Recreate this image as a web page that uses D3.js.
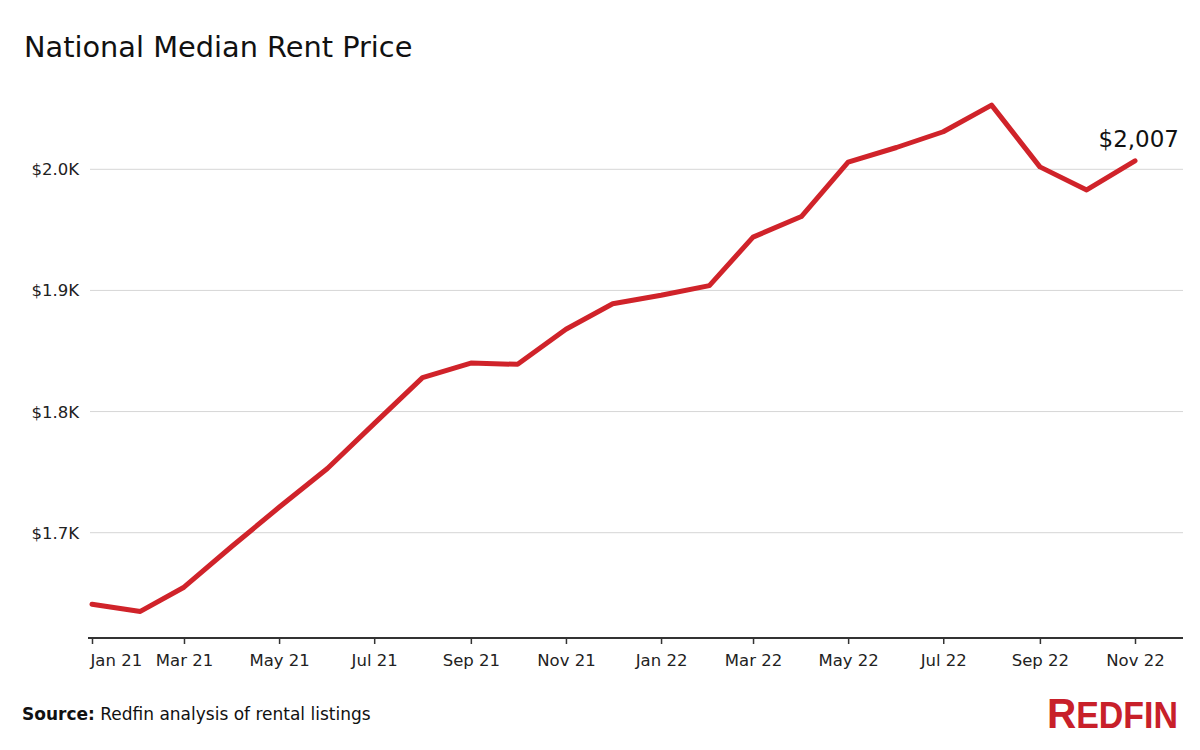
<!DOCTYPE html>
<html><head><meta charset="utf-8">
<script src="https://cdn.jsdelivr.net/npm/d3@7"></script>
<style>body{margin:0;background:#fff}svg{display:block}</style>
</head><body>
<svg id="c" width="1200" height="750"></svg>
<script>
const months = ["2021-01","2021-02","2021-03","2021-04","2021-05","2021-06","2021-07","2021-08","2021-09","2021-10","2021-11","2021-12","2022-01","2022-02","2022-03","2022-04","2022-05","2022-06","2022-07","2022-08","2022-09","2022-10","2022-11"];
const rents = [1641,1635,1655,1689,1721,1753,1790,1828,1840,1839,1868,1889,1896,1904,1944,1961,2006,2018,2031,2053,2002,1983,2007];
const yTicks = [1700,1800,1900,2000];
const yTickLabels = ["$1.7K","$1.8K","$1.9K","$2.0K"];
const xTickMonths = ["2021-01","2021-03","2021-05","2021-07","2021-09","2021-11","2022-01","2022-03","2022-05","2022-07","2022-09","2022-11"];
const title = "National Median Rent Price";
const lastLabel = "$2,007";

const parse = d3.timeParse("%Y-%m");
const data = months.map((m,i)=>({date:parse(m), v:rents[i]}));
const svg = d3.select("#c");
const font = "'DejaVu Sans', Verdana, sans-serif";

const x = d3.scaleTime().domain([parse("2021-01"), parse("2022-11")]).range([92,1135]);
const y = d3.scaleLinear().domain([1700,2000]).range([532.7,169.3]);
const baseY = 638, gridL = 90, gridR = 1183;

svg.append("text").attr("x",24).attr("y",57).attr("font-family",font).attr("font-size",28.8).attr("fill","#111").text(title);

// grid
const g = svg.append("g");
yTicks.forEach((t,i)=>{
  g.append("line").attr("x1",gridL).attr("x2",gridR).attr("y1",y(t)).attr("y2",y(t)).attr("stroke","#d6d6d6").attr("stroke-width",1);
  g.append("text").attr("x",79).attr("y",y(t)).attr("dy","0.36em").attr("text-anchor","end")
    .attr("font-family",font).attr("font-size",16.5).attr("fill","#222").text(yTickLabels[i]);
});

// x axis
svg.append("line").attr("x1",88).attr("x2",gridR).attr("y1",baseY).attr("y2",baseY).attr("stroke","#333").attr("stroke-width",2);
const xa = d3.axisBottom(x).tickValues(xTickMonths.map(parse)).tickSize(6).tickPadding(10).tickFormat(d3.timeFormat("%b %y"));
const ax = svg.append("g").attr("transform",`translate(0,${baseY})`).call(xa);
ax.select(".domain").remove();
ax.selectAll(".tick line").attr("stroke","#333").attr("stroke-width",1.5).attr("y1",0).attr("y2",6);
ax.selectAll(".tick text").attr("font-family",font).attr("font-size",16.5).attr("fill","#222");
ax.selectAll(".tick text").filter((d,i)=>i===0).attr("text-anchor","start").attr("dx",-2);

// line
const line = d3.line().x(d=>x(d.date)).y(d=>y(d.v));
svg.append("path").datum(data).attr("d",line).attr("fill","none").attr("stroke","#d0232a").attr("stroke-width",5).attr("stroke-linejoin","round").attr("stroke-linecap","round");

const last = data[data.length-1];
svg.append("text").attr("x",x(last.date)+44).attr("y",y(last.v)-14).attr("text-anchor","end")
  .attr("font-family",font).attr("font-size",23).attr("fill","#111").text(lastLabel);

// source
const src = svg.append("text").attr("x",22).attr("y",720).attr("font-family",font).attr("font-size",17).attr("fill","#111");
src.append("tspan").attr("font-weight","bold").text("Source:");
src.append("tspan").text(" Redfin analysis of rental listings");

// logo
const logo = svg.append("text").attr("x",1047).attr("y",728).attr("font-family","'Liberation Sans Narrow','Liberation Sans',sans-serif").attr("fill","#c8202a").attr("font-weight","bold")
  .attr("textLength",131).attr("lengthAdjust","spacingAndGlyphs");
logo.append("tspan").attr("font-size",43).text("R");
logo.append("tspan").attr("font-size",36).text("EDFIN");
</script>
</body></html>
